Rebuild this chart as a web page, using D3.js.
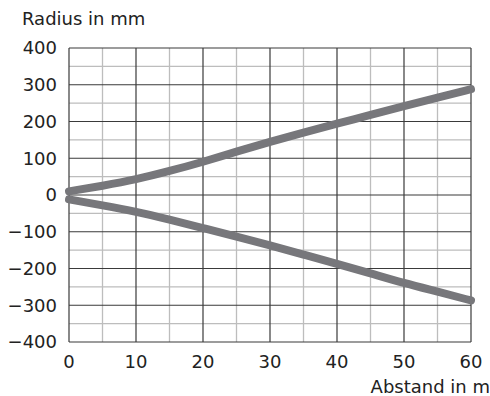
<!DOCTYPE html>
<html>
<head>
<meta charset="utf-8">
<script src="https://cdn.jsdelivr.net/npm/d3@7"></script>
<style>
  body { margin: 0; background: #fff; }
  text { font-family: "DejaVu Sans", sans-serif; fill: #222; }
</style>
</head>
<body>
<div id="chart"></div>
<script>
  const distance = [0, 5, 10, 15, 20, 25, 30, 35, 40, 45, 50, 55, 60];
  const upperRadius = [10, 25, 42, 65, 90, 118, 145, 170, 194, 218, 242, 265, 288];
  const lowerRadius = [-12, -28, -45, -67, -90, -113, -137, -162, -187, -213, -240, -263, -287];
  const xTicks = [0, 10, 20, 30, 40, 50, 60];
  const yTicks = [400, 300, 200, 100, 0, -100, -200, -300, -400];

  const width = 490;
  const height = 396;
  const margin = { top: 48, right: 20, bottom: 54, left: 69 };

  const svg = d3.select("#chart").append("svg")
    .attr("width", width)
    .attr("height", height);

  const x = d3.scaleLinear()
    .domain([0, 60])
    .range([margin.left, 471]);

  const y = d3.scaleLinear()
    .domain([-400, 400])
    .range([342, margin.top]);

  // minor grid first, major on top
  const grid = svg.append("g");
  grid.selectAll(".vminor")
    .data(d3.range(5, 60, 10))
    .enter().append("line")
    .attr("x1", d => x(d)).attr("x2", d => x(d))
    .attr("y1", y(400)).attr("y2", y(-400))
    .style("stroke", "#bdbdbd").style("stroke-width", 1.3);
  grid.selectAll(".hminor")
    .data(d3.range(-350, 400, 100))
    .enter().append("line")
    .attr("x1", x(0)).attr("x2", x(60))
    .attr("y1", d => y(d)).attr("y2", d => y(d))
    .style("stroke", "#bdbdbd").style("stroke-width", 1.3);
  grid.selectAll(".vmajor")
    .data(xTicks)
    .enter().append("line")
    .attr("x1", d => x(d)).attr("x2", d => x(d))
    .attr("y1", y(400)).attr("y2", y(-400))
    .style("stroke", "#3a3a3a").style("stroke-width", 1.2);
  grid.selectAll(".hmajor")
    .data(yTicks)
    .enter().append("line")
    .attr("x1", x(0)).attr("x2", x(60))
    .attr("y1", d => y(d)).attr("y2", d => y(d))
    .style("stroke", "#3a3a3a").style("stroke-width", 1.2);

  const line = d3.line()
    .x((d, i) => x(distance[i]))
    .y(d => y(d))
    .curve(d3.curveBasis);

  [upperRadius, lowerRadius].forEach(function(series) {
    svg.append("path")
      .datum(series)
      .attr("d", line)
      .style("fill", "none")
      .style("stroke", "#77777b")
      .style("stroke-width", 8)
      .style("stroke-linecap", "round")
      .style("stroke-linejoin", "round");
  });

  // tick labels
  svg.selectAll(".ylab")
    .data(yTicks)
    .enter().append("text")
    .attr("x", 57)
    .attr("y", d => y(d))
    .attr("dy", "0.36em")
    .style("text-anchor", "end")
    .style("font-size", "18px")
    .text(d => d < 0 ? "\u2212" + Math.abs(d) : d);

  svg.selectAll(".xlab")
    .data(xTicks)
    .enter().append("text")
    .attr("x", d => x(d))
    .attr("y", 368)
    .style("text-anchor", "middle")
    .style("font-size", "18px")
    .text(d => d);

  svg.append("text")
    .attr("x", 22)
    .attr("y", 25)
    .style("font-size", "18px")
    .text("Radius in mm");

  svg.append("text")
    .attr("x", 490)
    .attr("y", 393)
    .style("text-anchor", "end")
    .style("font-size", "18px")
    .text("Abstand in m");
</script>
</body>
</html>
